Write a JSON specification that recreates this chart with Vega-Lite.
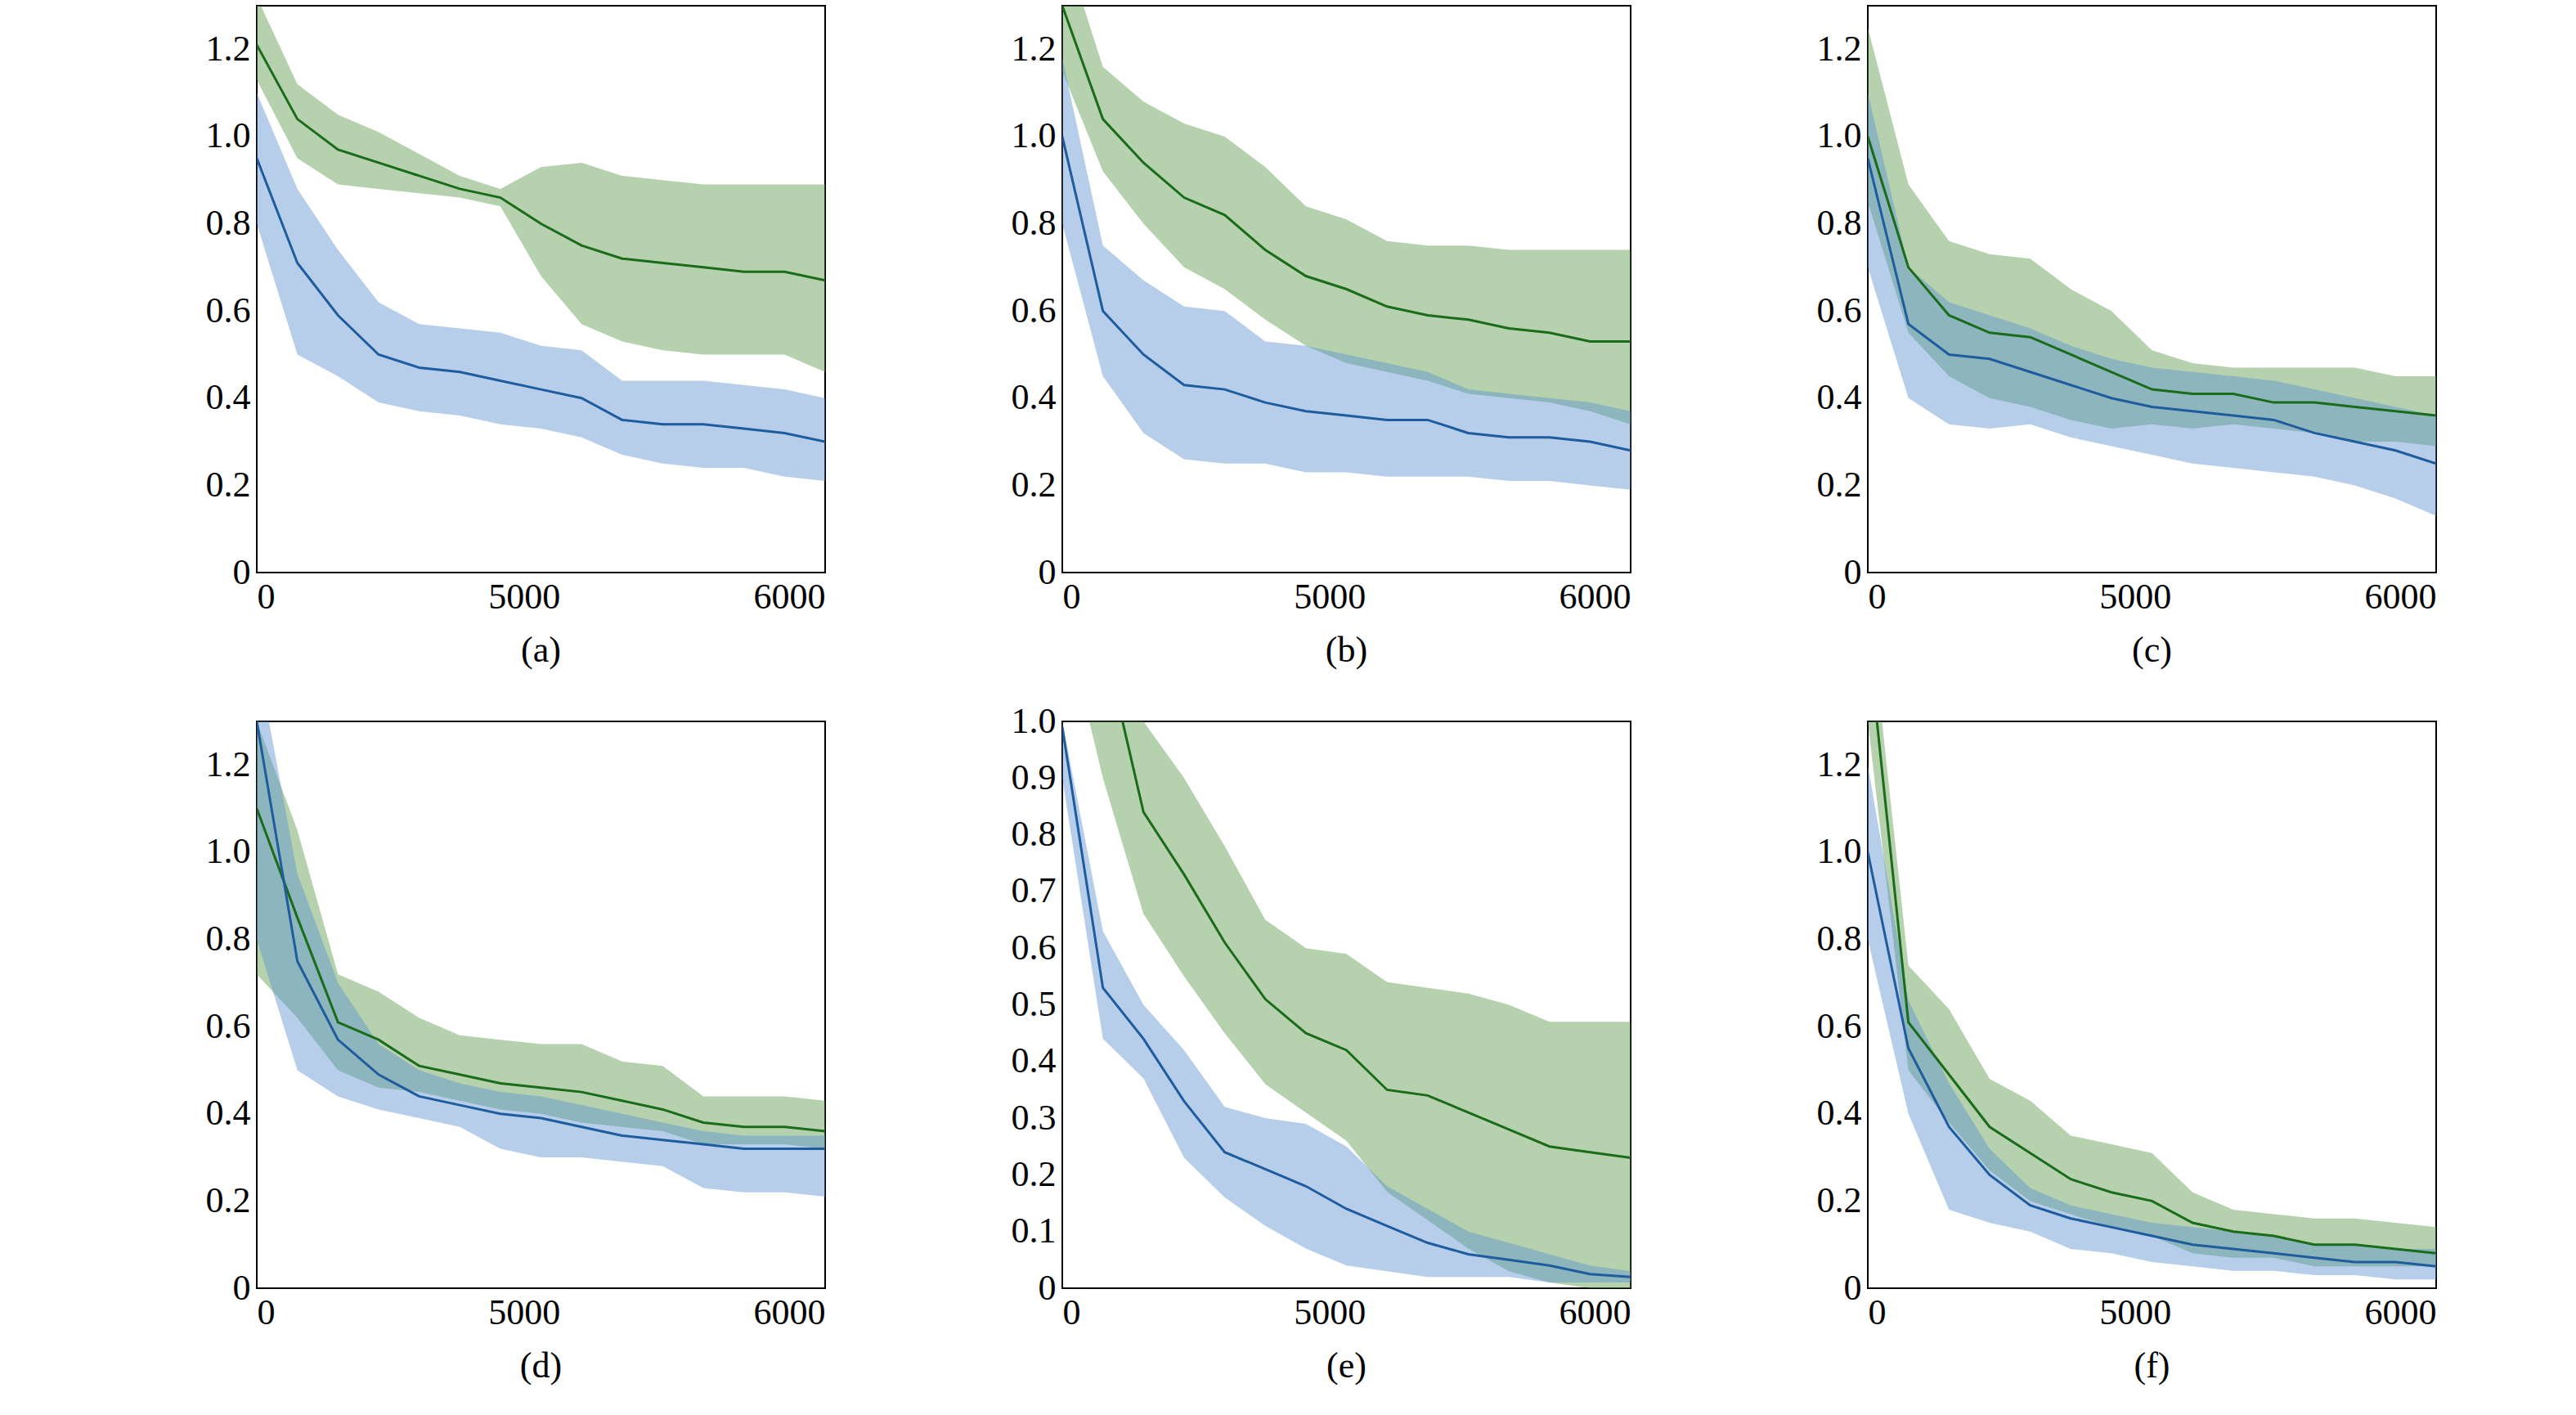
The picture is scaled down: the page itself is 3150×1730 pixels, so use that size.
{
  "$schema": "https://vega.github.io/schema/vega-lite/v6.json",
  "padding": {"left": 250, "top": 6, "right": 10, "bottom": 10},
  "background": "white",
  "config": {
    "view": {"stroke": "black", "strokeWidth": 2},
    "font": "Liberation Serif",
    "axis": {"grid": false, "ticks": false, "domain": false, "labelFont": "Liberation Serif", "labelFontSize": 44, "labelColor": "black", "title": null, "labelPadding": 8},
    "legend": {"labelFont": "Liberation Serif", "labelFontSize": 46, "labelColor": "black", "symbolType": "stroke", "symbolStrokeWidth": 3, "symbolSize": 1400, "strokeColor": "black", "fillColor": "white", "padding": 10, "rowPadding": 4, "orient": "top-right", "offset": 22},
    "title": {"font": "Liberation Serif", "fontSize": 44, "fontWeight": "normal", "orient": "bottom", "offset": 22}
  },
  "resolve": {"scale": {"color": "independent", "fill": "independent", "y": "independent"}, "legend": {"color": "independent"}},
  "spacing": 40,
  "data": {"values": [
    {"p":"a","s":"NSGA-II","t":0,"m":1.21,"lo":1.13,"hi":1.32},{"p":"a","s":"NSGA-II","t":1,"m":1.04,"lo":0.95,"hi":1.12},{"p":"a","s":"NSGA-II","t":2,"m":0.97,"lo":0.89,"hi":1.05},{"p":"a","s":"NSGA-II","t":3,"m":0.94,"lo":0.88,"hi":1.01},{"p":"a","s":"NSGA-II","t":4,"m":0.91,"lo":0.87,"hi":0.96},{"p":"a","s":"NSGA-II","t":5,"m":0.88,"lo":0.86,"hi":0.91},{"p":"a","s":"NSGA-II","t":6,"m":0.86,"lo":0.84,"hi":0.88},{"p":"a","s":"NSGA-II","t":7,"m":0.80,"lo":0.68,"hi":0.93},{"p":"a","s":"NSGA-II","t":8,"m":0.75,"lo":0.57,"hi":0.94},{"p":"a","s":"NSGA-II","t":9,"m":0.72,"lo":0.53,"hi":0.91},{"p":"a","s":"NSGA-II","t":10,"m":0.71,"lo":0.51,"hi":0.90},{"p":"a","s":"NSGA-II","t":11,"m":0.70,"lo":0.50,"hi":0.89},{"p":"a","s":"NSGA-II","t":12,"m":0.69,"lo":0.50,"hi":0.89},{"p":"a","s":"NSGA-II","t":13,"m":0.69,"lo":0.50,"hi":0.89},{"p":"a","s":"NSGA-II","t":14,"m":0.67,"lo":0.46,"hi":0.89},
    {"p":"a","s":"NSGA-II-LHO","t":0,"m":0.95,"lo":0.80,"hi":1.10},{"p":"a","s":"NSGA-II-LHO","t":1,"m":0.71,"lo":0.50,"hi":0.88},{"p":"a","s":"NSGA-II-LHO","t":2,"m":0.59,"lo":0.45,"hi":0.74},{"p":"a","s":"NSGA-II-LHO","t":3,"m":0.50,"lo":0.39,"hi":0.62},{"p":"a","s":"NSGA-II-LHO","t":4,"m":0.47,"lo":0.37,"hi":0.57},{"p":"a","s":"NSGA-II-LHO","t":5,"m":0.46,"lo":0.36,"hi":0.56},{"p":"a","s":"NSGA-II-LHO","t":6,"m":0.44,"lo":0.34,"hi":0.55},{"p":"a","s":"NSGA-II-LHO","t":7,"m":0.42,"lo":0.33,"hi":0.52},{"p":"a","s":"NSGA-II-LHO","t":8,"m":0.40,"lo":0.31,"hi":0.51},{"p":"a","s":"NSGA-II-LHO","t":9,"m":0.35,"lo":0.27,"hi":0.44},{"p":"a","s":"NSGA-II-LHO","t":10,"m":0.34,"lo":0.25,"hi":0.44},{"p":"a","s":"NSGA-II-LHO","t":11,"m":0.34,"lo":0.24,"hi":0.44},{"p":"a","s":"NSGA-II-LHO","t":12,"m":0.33,"lo":0.24,"hi":0.43},{"p":"a","s":"NSGA-II-LHO","t":13,"m":0.32,"lo":0.22,"hi":0.42},{"p":"a","s":"NSGA-II-LHO","t":14,"m":0.30,"lo":0.21,"hi":0.40},
    {"p":"b","s":"NSGA-II","t":0,"m":1.30,"lo":1.15,"hi":1.45},{"p":"b","s":"NSGA-II","t":1,"m":1.04,"lo":0.92,"hi":1.16},{"p":"b","s":"NSGA-II","t":2,"m":0.94,"lo":0.80,"hi":1.08},{"p":"b","s":"NSGA-II","t":3,"m":0.86,"lo":0.70,"hi":1.03},{"p":"b","s":"NSGA-II","t":4,"m":0.82,"lo":0.65,"hi":1.00},{"p":"b","s":"NSGA-II","t":5,"m":0.74,"lo":0.58,"hi":0.93},{"p":"b","s":"NSGA-II","t":6,"m":0.68,"lo":0.52,"hi":0.84},{"p":"b","s":"NSGA-II","t":7,"m":0.65,"lo":0.48,"hi":0.81},{"p":"b","s":"NSGA-II","t":8,"m":0.61,"lo":0.46,"hi":0.76},{"p":"b","s":"NSGA-II","t":9,"m":0.59,"lo":0.44,"hi":0.75},{"p":"b","s":"NSGA-II","t":10,"m":0.58,"lo":0.41,"hi":0.75},{"p":"b","s":"NSGA-II","t":11,"m":0.56,"lo":0.40,"hi":0.74},{"p":"b","s":"NSGA-II","t":12,"m":0.55,"lo":0.39,"hi":0.74},{"p":"b","s":"NSGA-II","t":13,"m":0.53,"lo":0.37,"hi":0.74},{"p":"b","s":"NSGA-II","t":14,"m":0.53,"lo":0.34,"hi":0.74},
    {"p":"b","s":"NSGA-II-LHO","t":0,"m":1.00,"lo":0.80,"hi":1.18},{"p":"b","s":"NSGA-II-LHO","t":1,"m":0.60,"lo":0.45,"hi":0.75},{"p":"b","s":"NSGA-II-LHO","t":2,"m":0.50,"lo":0.32,"hi":0.67},{"p":"b","s":"NSGA-II-LHO","t":3,"m":0.43,"lo":0.26,"hi":0.61},{"p":"b","s":"NSGA-II-LHO","t":4,"m":0.42,"lo":0.25,"hi":0.60},{"p":"b","s":"NSGA-II-LHO","t":5,"m":0.39,"lo":0.25,"hi":0.53},{"p":"b","s":"NSGA-II-LHO","t":6,"m":0.37,"lo":0.23,"hi":0.52},{"p":"b","s":"NSGA-II-LHO","t":7,"m":0.36,"lo":0.23,"hi":0.50},{"p":"b","s":"NSGA-II-LHO","t":8,"m":0.35,"lo":0.22,"hi":0.48},{"p":"b","s":"NSGA-II-LHO","t":9,"m":0.35,"lo":0.22,"hi":0.46},{"p":"b","s":"NSGA-II-LHO","t":10,"m":0.32,"lo":0.22,"hi":0.42},{"p":"b","s":"NSGA-II-LHO","t":11,"m":0.31,"lo":0.21,"hi":0.41},{"p":"b","s":"NSGA-II-LHO","t":12,"m":0.31,"lo":0.21,"hi":0.40},{"p":"b","s":"NSGA-II-LHO","t":13,"m":0.30,"lo":0.20,"hi":0.39},{"p":"b","s":"NSGA-II-LHO","t":14,"m":0.28,"lo":0.19,"hi":0.37},
    {"p":"c","s":"CMOEA-MS","t":0,"m":1.00,"lo":0.85,"hi":1.25},{"p":"c","s":"CMOEA-MS","t":1,"m":0.70,"lo":0.55,"hi":0.89},{"p":"c","s":"CMOEA-MS","t":2,"m":0.59,"lo":0.45,"hi":0.76},{"p":"c","s":"CMOEA-MS","t":3,"m":0.55,"lo":0.40,"hi":0.73},{"p":"c","s":"CMOEA-MS","t":4,"m":0.54,"lo":0.38,"hi":0.72},{"p":"c","s":"CMOEA-MS","t":5,"m":0.50,"lo":0.35,"hi":0.65},{"p":"c","s":"CMOEA-MS","t":6,"m":0.46,"lo":0.33,"hi":0.60},{"p":"c","s":"CMOEA-MS","t":7,"m":0.42,"lo":0.34,"hi":0.51},{"p":"c","s":"CMOEA-MS","t":8,"m":0.41,"lo":0.33,"hi":0.48},{"p":"c","s":"CMOEA-MS","t":9,"m":0.41,"lo":0.34,"hi":0.47},{"p":"c","s":"CMOEA-MS","t":10,"m":0.39,"lo":0.33,"hi":0.47},{"p":"c","s":"CMOEA-MS","t":11,"m":0.39,"lo":0.32,"hi":0.47},{"p":"c","s":"CMOEA-MS","t":12,"m":0.38,"lo":0.30,"hi":0.47},{"p":"c","s":"CMOEA-MS","t":13,"m":0.37,"lo":0.30,"hi":0.45},{"p":"c","s":"CMOEA-MS","t":14,"m":0.36,"lo":0.29,"hi":0.45},
    {"p":"c","s":"CMOEA-MS-LHO","t":0,"m":0.95,"lo":0.70,"hi":1.10},{"p":"c","s":"CMOEA-MS-LHO","t":1,"m":0.57,"lo":0.40,"hi":0.70},{"p":"c","s":"CMOEA-MS-LHO","t":2,"m":0.50,"lo":0.34,"hi":0.62},{"p":"c","s":"CMOEA-MS-LHO","t":3,"m":0.49,"lo":0.33,"hi":0.59},{"p":"c","s":"CMOEA-MS-LHO","t":4,"m":0.46,"lo":0.34,"hi":0.56},{"p":"c","s":"CMOEA-MS-LHO","t":5,"m":0.43,"lo":0.31,"hi":0.52},{"p":"c","s":"CMOEA-MS-LHO","t":6,"m":0.40,"lo":0.29,"hi":0.49},{"p":"c","s":"CMOEA-MS-LHO","t":7,"m":0.38,"lo":0.27,"hi":0.47},{"p":"c","s":"CMOEA-MS-LHO","t":8,"m":0.37,"lo":0.25,"hi":0.46},{"p":"c","s":"CMOEA-MS-LHO","t":9,"m":0.36,"lo":0.24,"hi":0.45},{"p":"c","s":"CMOEA-MS-LHO","t":10,"m":0.35,"lo":0.23,"hi":0.44},{"p":"c","s":"CMOEA-MS-LHO","t":11,"m":0.32,"lo":0.22,"hi":0.42},{"p":"c","s":"CMOEA-MS-LHO","t":12,"m":0.30,"lo":0.20,"hi":0.40},{"p":"c","s":"CMOEA-MS-LHO","t":13,"m":0.28,"lo":0.17,"hi":0.38},{"p":"c","s":"CMOEA-MS-LHO","t":14,"m":0.25,"lo":0.13,"hi":0.36},
    {"p":"d","s":"CMOEA-MS","t":0,"m":1.10,"lo":0.72,"hi":1.30},{"p":"d","s":"CMOEA-MS","t":1,"m":0.85,"lo":0.62,"hi":1.05},{"p":"d","s":"CMOEA-MS","t":2,"m":0.61,"lo":0.50,"hi":0.72},{"p":"d","s":"CMOEA-MS","t":3,"m":0.57,"lo":0.46,"hi":0.68},{"p":"d","s":"CMOEA-MS","t":4,"m":0.51,"lo":0.45,"hi":0.62},{"p":"d","s":"CMOEA-MS","t":5,"m":0.49,"lo":0.43,"hi":0.58},{"p":"d","s":"CMOEA-MS","t":6,"m":0.47,"lo":0.41,"hi":0.57},{"p":"d","s":"CMOEA-MS","t":7,"m":0.46,"lo":0.40,"hi":0.56},{"p":"d","s":"CMOEA-MS","t":8,"m":0.45,"lo":0.38,"hi":0.56},{"p":"d","s":"CMOEA-MS","t":9,"m":0.43,"lo":0.37,"hi":0.52},{"p":"d","s":"CMOEA-MS","t":10,"m":0.41,"lo":0.36,"hi":0.51},{"p":"d","s":"CMOEA-MS","t":11,"m":0.38,"lo":0.33,"hi":0.44},{"p":"d","s":"CMOEA-MS","t":12,"m":0.37,"lo":0.33,"hi":0.44},{"p":"d","s":"CMOEA-MS","t":13,"m":0.37,"lo":0.33,"hi":0.44},{"p":"d","s":"CMOEA-MS","t":14,"m":0.36,"lo":0.32,"hi":0.43},
    {"p":"d","s":"CMOEA-MS-LHO","t":0,"m":1.30,"lo":0.80,"hi":1.45},{"p":"d","s":"CMOEA-MS-LHO","t":1,"m":0.75,"lo":0.50,"hi":0.95},{"p":"d","s":"CMOEA-MS-LHO","t":2,"m":0.57,"lo":0.44,"hi":0.70},{"p":"d","s":"CMOEA-MS-LHO","t":3,"m":0.49,"lo":0.41,"hi":0.56},{"p":"d","s":"CMOEA-MS-LHO","t":4,"m":0.44,"lo":0.39,"hi":0.50},{"p":"d","s":"CMOEA-MS-LHO","t":5,"m":0.42,"lo":0.37,"hi":0.47},{"p":"d","s":"CMOEA-MS-LHO","t":6,"m":0.40,"lo":0.32,"hi":0.45},{"p":"d","s":"CMOEA-MS-LHO","t":7,"m":0.39,"lo":0.30,"hi":0.44},{"p":"d","s":"CMOEA-MS-LHO","t":8,"m":0.37,"lo":0.30,"hi":0.42},{"p":"d","s":"CMOEA-MS-LHO","t":9,"m":0.35,"lo":0.29,"hi":0.40},{"p":"d","s":"CMOEA-MS-LHO","t":10,"m":0.34,"lo":0.28,"hi":0.38},{"p":"d","s":"CMOEA-MS-LHO","t":11,"m":0.33,"lo":0.23,"hi":0.36},{"p":"d","s":"CMOEA-MS-LHO","t":12,"m":0.32,"lo":0.22,"hi":0.35},{"p":"d","s":"CMOEA-MS-LHO","t":13,"m":0.32,"lo":0.22,"hi":0.35},{"p":"d","s":"CMOEA-MS-LHO","t":14,"m":0.32,"lo":0.21,"hi":0.35},
    {"p":"e","s":"CCMO","t":0,"m":1.40,"lo":1.20,"hi":1.60},{"p":"e","s":"CCMO","t":1,"m":1.15,"lo":0.90,"hi":1.30},{"p":"e","s":"CCMO","t":2,"m":0.84,"lo":0.66,"hi":1.00},{"p":"e","s":"CCMO","t":3,"m":0.73,"lo":0.55,"hi":0.90},{"p":"e","s":"CCMO","t":4,"m":0.61,"lo":0.45,"hi":0.78},{"p":"e","s":"CCMO","t":5,"m":0.51,"lo":0.36,"hi":0.65},{"p":"e","s":"CCMO","t":6,"m":0.45,"lo":0.31,"hi":0.60},{"p":"e","s":"CCMO","t":7,"m":0.42,"lo":0.26,"hi":0.59},{"p":"e","s":"CCMO","t":8,"m":0.35,"lo":0.17,"hi":0.54},{"p":"e","s":"CCMO","t":9,"m":0.34,"lo":0.12,"hi":0.53},{"p":"e","s":"CCMO","t":10,"m":0.31,"lo":0.07,"hi":0.52},{"p":"e","s":"CCMO","t":11,"m":0.28,"lo":0.03,"hi":0.50},{"p":"e","s":"CCMO","t":12,"m":0.25,"lo":0.01,"hi":0.47},{"p":"e","s":"CCMO","t":13,"m":0.24,"lo":0.0,"hi":0.47},{"p":"e","s":"CCMO","t":14,"m":0.23,"lo":0.0,"hi":0.47},
    {"p":"e","s":"CCMO-LHO","t":0,"m":0.99,"lo":0.90,"hi":1.0},{"p":"e","s":"CCMO-LHO","t":1,"m":0.53,"lo":0.44,"hi":0.63},{"p":"e","s":"CCMO-LHO","t":2,"m":0.44,"lo":0.37,"hi":0.50},{"p":"e","s":"CCMO-LHO","t":3,"m":0.33,"lo":0.23,"hi":0.42},{"p":"e","s":"CCMO-LHO","t":4,"m":0.24,"lo":0.16,"hi":0.32},{"p":"e","s":"CCMO-LHO","t":5,"m":0.21,"lo":0.11,"hi":0.30},{"p":"e","s":"CCMO-LHO","t":6,"m":0.18,"lo":0.07,"hi":0.29},{"p":"e","s":"CCMO-LHO","t":7,"m":0.14,"lo":0.04,"hi":0.25},{"p":"e","s":"CCMO-LHO","t":8,"m":0.11,"lo":0.03,"hi":0.18},{"p":"e","s":"CCMO-LHO","t":9,"m":0.08,"lo":0.02,"hi":0.14},{"p":"e","s":"CCMO-LHO","t":10,"m":0.06,"lo":0.02,"hi":0.10},{"p":"e","s":"CCMO-LHO","t":11,"m":0.05,"lo":0.02,"hi":0.08},{"p":"e","s":"CCMO-LHO","t":12,"m":0.04,"lo":0.01,"hi":0.06},{"p":"e","s":"CCMO-LHO","t":13,"m":0.025,"lo":0.01,"hi":0.04},{"p":"e","s":"CCMO-LHO","t":14,"m":0.02,"lo":0.01,"hi":0.03},
    {"p":"f","s":"CCMO","t":0,"m":1.50,"lo":1.30,"hi":1.60},{"p":"f","s":"CCMO","t":1,"m":0.61,"lo":0.50,"hi":0.74},{"p":"f","s":"CCMO","t":2,"m":0.49,"lo":0.38,"hi":0.64},{"p":"f","s":"CCMO","t":3,"m":0.37,"lo":0.27,"hi":0.48},{"p":"f","s":"CCMO","t":4,"m":0.31,"lo":0.20,"hi":0.43},{"p":"f","s":"CCMO","t":5,"m":0.25,"lo":0.17,"hi":0.35},{"p":"f","s":"CCMO","t":6,"m":0.22,"lo":0.14,"hi":0.33},{"p":"f","s":"CCMO","t":7,"m":0.20,"lo":0.12,"hi":0.31},{"p":"f","s":"CCMO","t":8,"m":0.15,"lo":0.08,"hi":0.22},{"p":"f","s":"CCMO","t":9,"m":0.13,"lo":0.07,"hi":0.18},{"p":"f","s":"CCMO","t":10,"m":0.12,"lo":0.07,"hi":0.17},{"p":"f","s":"CCMO","t":11,"m":0.10,"lo":0.05,"hi":0.16},{"p":"f","s":"CCMO","t":12,"m":0.10,"lo":0.05,"hi":0.16},{"p":"f","s":"CCMO","t":13,"m":0.09,"lo":0.05,"hi":0.15},{"p":"f","s":"CCMO","t":14,"m":0.08,"lo":0.05,"hi":0.14},
    {"p":"f","s":"CCMO-LHO","t":0,"m":1.00,"lo":0.80,"hi":1.20},{"p":"f","s":"CCMO-LHO","t":1,"m":0.55,"lo":0.40,"hi":0.66},{"p":"f","s":"CCMO-LHO","t":2,"m":0.37,"lo":0.18,"hi":0.47},{"p":"f","s":"CCMO-LHO","t":3,"m":0.26,"lo":0.15,"hi":0.32},{"p":"f","s":"CCMO-LHO","t":4,"m":0.19,"lo":0.13,"hi":0.23},{"p":"f","s":"CCMO-LHO","t":5,"m":0.16,"lo":0.09,"hi":0.19},{"p":"f","s":"CCMO-LHO","t":6,"m":0.14,"lo":0.08,"hi":0.17},{"p":"f","s":"CCMO-LHO","t":7,"m":0.12,"lo":0.06,"hi":0.15},{"p":"f","s":"CCMO-LHO","t":8,"m":0.10,"lo":0.05,"hi":0.14},{"p":"f","s":"CCMO-LHO","t":9,"m":0.09,"lo":0.04,"hi":0.13},{"p":"f","s":"CCMO-LHO","t":10,"m":0.08,"lo":0.04,"hi":0.12},{"p":"f","s":"CCMO-LHO","t":11,"m":0.07,"lo":0.03,"hi":0.10},{"p":"f","s":"CCMO-LHO","t":12,"m":0.06,"lo":0.03,"hi":0.10},{"p":"f","s":"CCMO-LHO","t":13,"m":0.06,"lo":0.02,"hi":0.09},{"p":"f","s":"CCMO-LHO","t":14,"m":0.05,"lo":0.02,"hi":0.09}
  ]},
  "vconcat": [
    {"spacing": 225, "resolve": {"scale": {"color": "independent", "fill": "independent", "y": "independent"}, "legend": {"color": "independent"}}, "hconcat": [
      {"title": "(a)", "width": 695, "height": 693, "transform": [{"filter": "datum.p == 'a'"}], "layer": [
        {"mark": {"type": "area", "opacity": 0.45, "clip": true}, "encoding": {"x": {"field": "t", "type": "quantitative", "scale": {"domain": [0, 14], "nice": false}, "axis": {"values": [0, 6.58, 14], "labelExpr": "datum.value == 0 ? '0' : (datum.value < 10 ? '5000' : '6000')"}}, "y": {"field": "lo", "type": "quantitative", "scale": {"domain": [0, 1.3], "nice": false}, "axis": {"values": [0, 0.2, 0.4, 0.6, 0.8, 1.0, 1.2], "format": ".1f", "labelExpr": "datum.value == 0 ? '0' : datum.label"}}, "y2": {"field": "hi"}, "fill": {"field": "s", "type": "nominal", "scale": {"domain": ["NSGA-II", "NSGA-II-LHO"], "range": ["#5a9a4a", "#5d93d0"]}, "legend": null}}},
        {"mark": {"type": "line", "strokeWidth": 3, "clip": true}, "encoding": {"x": {"field": "t", "type": "quantitative"}, "y": {"field": "m", "type": "quantitative"}, "color": {"field": "s", "type": "nominal", "scale": {"domain": ["NSGA-II", "NSGA-II-LHO"], "range": ["#1a6b1a", "#1f5c9e"]}, "legend": {"title": null, "orient": "top-right"}}}}
      ]},
      {"title": "(b)", "width": 695, "height": 693, "transform": [{"filter": "datum.p == 'b'"}], "layer": [
        {"mark": {"type": "area", "opacity": 0.45, "clip": true}, "encoding": {"x": {"field": "t", "type": "quantitative", "scale": {"domain": [0, 14], "nice": false}, "axis": {"values": [0, 6.58, 14], "labelExpr": "datum.value == 0 ? '0' : (datum.value < 10 ? '5000' : '6000')"}}, "y": {"field": "lo", "type": "quantitative", "scale": {"domain": [0, 1.3], "nice": false}, "axis": {"values": [0, 0.2, 0.4, 0.6, 0.8, 1.0, 1.2], "format": ".1f", "labelExpr": "datum.value == 0 ? '0' : datum.label"}}, "y2": {"field": "hi"}, "fill": {"field": "s", "type": "nominal", "scale": {"domain": ["NSGA-II", "NSGA-II-LHO"], "range": ["#5a9a4a", "#5d93d0"]}, "legend": null}}},
        {"mark": {"type": "line", "strokeWidth": 3, "clip": true}, "encoding": {"x": {"field": "t", "type": "quantitative"}, "y": {"field": "m", "type": "quantitative"}, "color": {"field": "s", "type": "nominal", "scale": {"domain": ["NSGA-II", "NSGA-II-LHO"], "range": ["#1a6b1a", "#1f5c9e"]}, "legend": {"title": null, "orient": "top-right"}}}}
      ]},
      {"title": "(c)", "width": 695, "height": 693, "transform": [{"filter": "datum.p == 'c'"}], "layer": [
        {"mark": {"type": "area", "opacity": 0.45, "clip": true}, "encoding": {"x": {"field": "t", "type": "quantitative", "scale": {"domain": [0, 14], "nice": false}, "axis": {"values": [0, 6.58, 14], "labelExpr": "datum.value == 0 ? '0' : (datum.value < 10 ? '5000' : '6000')"}}, "y": {"field": "lo", "type": "quantitative", "scale": {"domain": [0, 1.3], "nice": false}, "axis": {"values": [0, 0.2, 0.4, 0.6, 0.8, 1.0, 1.2], "format": ".1f", "labelExpr": "datum.value == 0 ? '0' : datum.label"}}, "y2": {"field": "hi"}, "fill": {"field": "s", "type": "nominal", "scale": {"domain": ["CMOEA-MS", "CMOEA-MS-LHO"], "range": ["#5a9a4a", "#5d93d0"]}, "legend": null}}},
        {"mark": {"type": "line", "strokeWidth": 3, "clip": true}, "encoding": {"x": {"field": "t", "type": "quantitative"}, "y": {"field": "m", "type": "quantitative"}, "color": {"field": "s", "type": "nominal", "scale": {"domain": ["CMOEA-MS", "CMOEA-MS-LHO"], "range": ["#1a6b1a", "#1f5c9e"]}, "legend": {"title": null, "orient": "top-right"}}}}
      ]}
    ]},
    {"spacing": 225, "resolve": {"scale": {"color": "independent", "fill": "independent", "y": "independent"}, "legend": {"color": "independent"}}, "hconcat": [
      {"title": "(d)", "width": 695, "height": 693, "transform": [{"filter": "datum.p == 'd'"}], "layer": [
        {"mark": {"type": "area", "opacity": 0.45, "clip": true}, "encoding": {"x": {"field": "t", "type": "quantitative", "scale": {"domain": [0, 14], "nice": false}, "axis": {"values": [0, 6.58, 14], "labelExpr": "datum.value == 0 ? '0' : (datum.value < 10 ? '5000' : '6000')"}}, "y": {"field": "lo", "type": "quantitative", "scale": {"domain": [0, 1.3], "nice": false}, "axis": {"values": [0, 0.2, 0.4, 0.6, 0.8, 1.0, 1.2], "format": ".1f", "labelExpr": "datum.value == 0 ? '0' : datum.label"}}, "y2": {"field": "hi"}, "fill": {"field": "s", "type": "nominal", "scale": {"domain": ["CMOEA-MS", "CMOEA-MS-LHO"], "range": ["#5a9a4a", "#5d93d0"]}, "legend": null}}},
        {"mark": {"type": "line", "strokeWidth": 3, "clip": true}, "encoding": {"x": {"field": "t", "type": "quantitative"}, "y": {"field": "m", "type": "quantitative"}, "color": {"field": "s", "type": "nominal", "scale": {"domain": ["CMOEA-MS", "CMOEA-MS-LHO"], "range": ["#1a6b1a", "#1f5c9e"]}, "legend": {"title": null, "orient": "top-right"}}}}
      ]},
      {"title": "(e)", "width": 695, "height": 693, "transform": [{"filter": "datum.p == 'e'"}], "layer": [
        {"mark": {"type": "area", "opacity": 0.45, "clip": true}, "encoding": {"x": {"field": "t", "type": "quantitative", "scale": {"domain": [0, 14], "nice": false}, "axis": {"values": [0, 6.58, 14], "labelExpr": "datum.value == 0 ? '0' : (datum.value < 10 ? '5000' : '6000')"}}, "y": {"field": "lo", "type": "quantitative", "scale": {"domain": [0, 1.0], "nice": false}, "axis": {"values": [0, 0.1, 0.2, 0.3, 0.4, 0.5, 0.6, 0.7, 0.8, 0.9, 1.0], "format": ".1f", "labelExpr": "datum.value == 0 ? '0' : datum.label"}}, "y2": {"field": "hi"}, "fill": {"field": "s", "type": "nominal", "scale": {"domain": ["CCMO", "CCMO-LHO"], "range": ["#5a9a4a", "#5d93d0"]}, "legend": null}}},
        {"mark": {"type": "line", "strokeWidth": 3, "clip": true}, "encoding": {"x": {"field": "t", "type": "quantitative"}, "y": {"field": "m", "type": "quantitative"}, "color": {"field": "s", "type": "nominal", "scale": {"domain": ["CCMO", "CCMO-LHO"], "range": ["#1a6b1a", "#1f5c9e"]}, "legend": {"title": null, "orient": "top-right"}}}}
      ]},
      {"title": "(f)", "width": 695, "height": 693, "transform": [{"filter": "datum.p == 'f'"}], "layer": [
        {"mark": {"type": "area", "opacity": 0.45, "clip": true}, "encoding": {"x": {"field": "t", "type": "quantitative", "scale": {"domain": [0, 14], "nice": false}, "axis": {"values": [0, 6.58, 14], "labelExpr": "datum.value == 0 ? '0' : (datum.value < 10 ? '5000' : '6000')"}}, "y": {"field": "lo", "type": "quantitative", "scale": {"domain": [0, 1.3], "nice": false}, "axis": {"values": [0, 0.2, 0.4, 0.6, 0.8, 1.0, 1.2], "format": ".1f", "labelExpr": "datum.value == 0 ? '0' : datum.label"}}, "y2": {"field": "hi"}, "fill": {"field": "s", "type": "nominal", "scale": {"domain": ["CCMO", "CCMO-LHO"], "range": ["#5a9a4a", "#5d93d0"]}, "legend": null}}},
        {"mark": {"type": "line", "strokeWidth": 3, "clip": true}, "encoding": {"x": {"field": "t", "type": "quantitative"}, "y": {"field": "m", "type": "quantitative"}, "color": {"field": "s", "type": "nominal", "scale": {"domain": ["CCMO", "CCMO-LHO"], "range": ["#1a6b1a", "#1f5c9e"]}, "legend": {"title": null, "orient": "top-right"}}}}
      ]}
    ]}
  ]
}
